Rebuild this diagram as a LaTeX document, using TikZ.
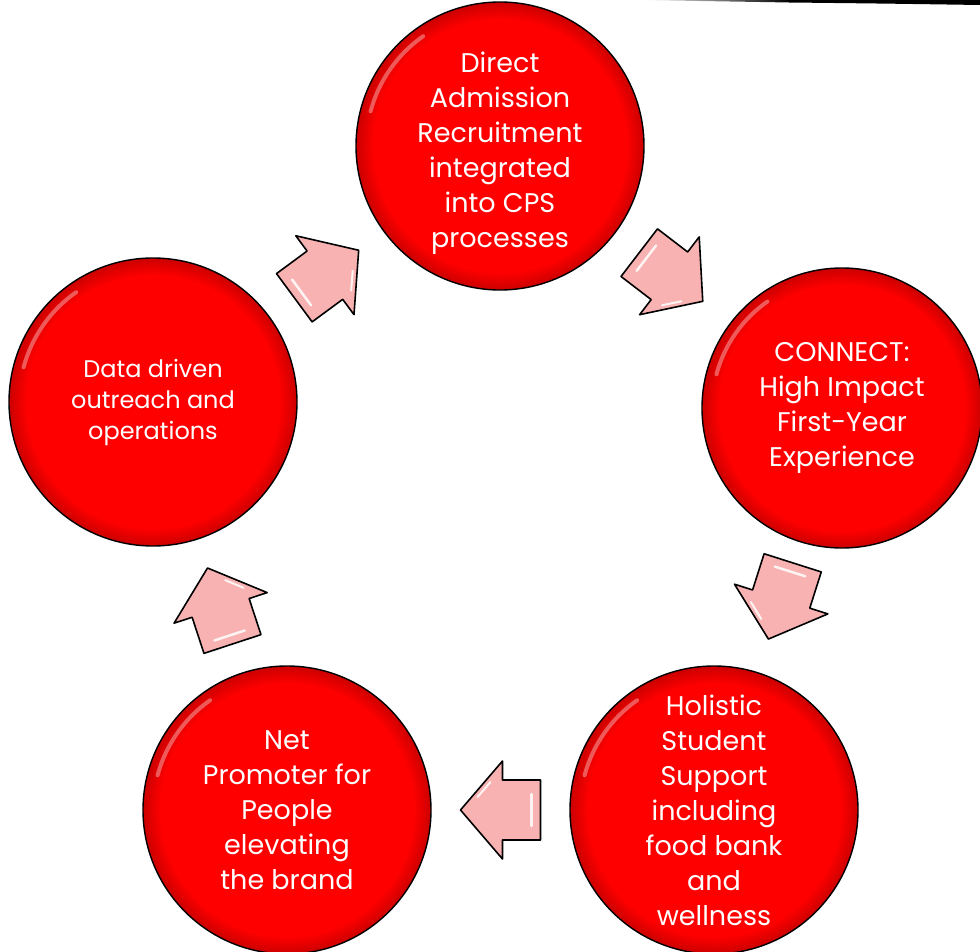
\documentclass[tikz,border=0pt]{standalone}
\usepackage{fontspec}
\setmainfont{Poppins}
\usetikzlibrary{calc}
\definecolor{cred}{RGB}{254,0,0}
\definecolor{apink}{RGB}{249,178,178}
\pgfdeclareradialshading{redball}{\pgfpoint{0bp}{0bp}}{color(0bp)=(cred); color(22bp)=(cred); color(25bp)=(cred!80!black); color(50bp)=(cred!80!black)}
\begin{document}
\begin{tikzpicture}[x=1pt,y=-1pt,
  stage/.style={circle, minimum size=288pt, inner sep=0pt, shading=redball, draw=black, line width=1.4pt, text=white, align=center, font=\fontsize{27}{35}\selectfont},
  stagetext/.style={text=white, align=center, font=\fontsize{27}{35}\selectfont},
  gloss/.style={white, opacity=0.35, line width=4pt, line cap=round},
  blockarrow/.pic={
    \draw[fill=apink, draw=black, line width=1.6pt, line join=round]
      (-40,-30) -- (-2,-30) -- (-2,-49) -- (40,0) -- (-2,49) -- (-2,30) -- (-40,30) -- cycle;
    \draw[white, opacity=0.85, line width=2.5pt, line cap=round] (-31,-16) -- (-31,16);
    \draw[white, opacity=0.85, line width=2pt, line cap=round] (10,28) -- (23,13);
  }]
\useasboundingbox (0,0) rectangle (980,952);
\clip (0,0) rectangle (980,952);
% top-right black sliver
\shade[left color=white, right color=black] (640,0) .. controls (700,1) .. (790,2.5) -- (790,0) -- cycle;
\fill[black] (789,0) -- (789,2.5) .. controls (880,3.5) .. (980,5) -- (980,0) -- cycle;
% stages
\node[stage] (c1) at (500,146) {};
\node[stagetext] (t1) at ([yshift=-7pt]c1.center) {Direct\\Admission\\Recruitment\\integrated\\into CPS\\processes};
\node[stage, minimum size=280pt] (c2) at (842,408) {CONNECT:\\High Impact\\First-Year\\Experience};
\node[stage] (c3) at (714,810) {Holistic\\Student\\Support\\including\\food bank\\and\\wellness};
\node[stage] (c4) at (287,810) {Net\\Promoter for\\People\\elevating\\the brand};
\node[stage, font=\fontsize{24}{31}\selectfont] (c5) at (153,402) {Data driven\\outreach and\\operations};
% glossy highlights on circles
\foreach \c in {c1,c3,c4,c5}{
  \draw[gloss] ($(\c)+(195:134)$) arc[start angle=195, end angle=235, radius=134];
}
\draw[gloss] ($(c2)+(195:130)$) arc[start angle=195, end angle=235, radius=130];
% arrows between stages
\path let \p1=($(c1)-(c5)$), \n1={atan2(\y1,\x1)} in pic[rotate=\n1] at ($(c5)!0.5!(c1)$) {blockarrow};
\path let \p1=($(c2)-(c1)$), \n1={atan2(\y1,\x1)} in pic[rotate=\n1] at ($(c1)!0.5!(c2)$) {blockarrow};
\path let \p1=($(c3)-(c2)$), \n1={atan2(\y1,\x1)} in pic[rotate=\n1] at ($(c2)!0.48!(c3)$) {blockarrow};
\path let \p1=($(c4)-(c3)$), \n1={atan2(\y1,\x1)} in pic[rotate=\n1] at ($(c3)!0.5!(c4)$) {blockarrow};
\path let \p1=($(c5)-(c4)$), \n1={atan2(\y1,\x1)} in pic[rotate=\n1] at ($(c4)!0.5!(c5)$) {blockarrow};
\end{tikzpicture}
\end{document}
